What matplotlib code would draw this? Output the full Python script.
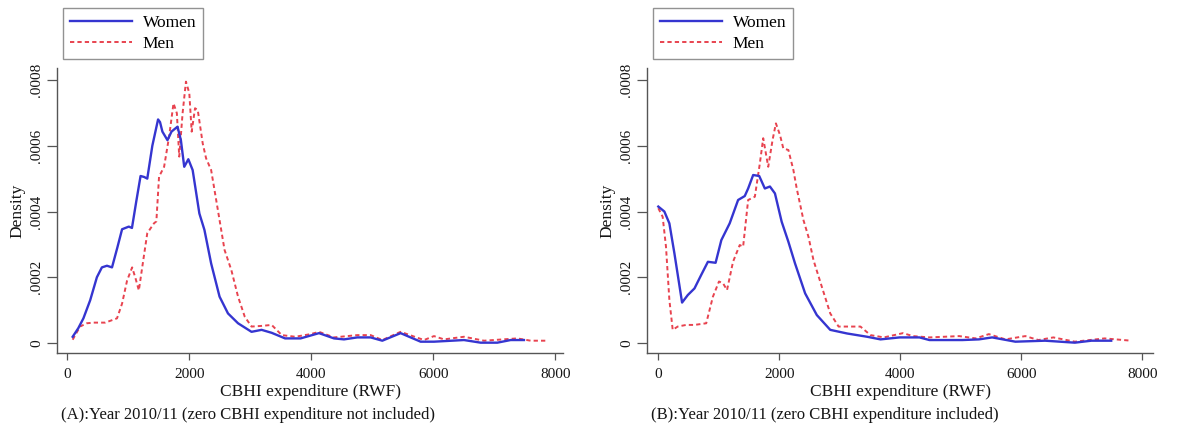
import matplotlib
matplotlib.use("Agg")
import matplotlib.pyplot as plt
from matplotlib.ticker import FixedLocator

# ---------------- data ----------------
# Panel A: zero CBHI expenditure not included
a_women_x = [88, 180, 264, 375, 485, 567, 650, 733, 820, 898, 1008, 1060, 1130, 1201, 1260, 1311, 1394,
             1488, 1520, 1559, 1642, 1708, 1807, 1862, 1917, 1984, 2055, 2110, 2165, 2248, 2358, 2496,
             2634, 2799, 3020, 3185, 3350, 3570, 3825, 4126, 4372, 4536, 4754, 4973, 5164, 5464, 5792,
             6011, 6503, 6776, 7049, 7268, 7486]
a_women_y = [0.000019, 0.000045, 0.000075, 0.00013, 0.0002, 0.00023, 0.000235, 0.00023, 0.00029, 0.000346,
             0.000354, 0.00035, 0.00043, 0.000508, 0.000505, 0.0005, 0.0006,
             0.00068, 0.000672, 0.000643, 0.000617, 0.000643, 0.000658, 0.000617, 0.000536, 0.000559,
             0.000526, 0.00046, 0.000394, 0.000344, 0.000242, 0.000141,
             0.00009, 0.00006, 0.000034, 0.00004, 0.000031, 0.000014, 0.000014, 0.00003, 0.000014,
             0.000011, 0.000017, 0.000017, 0.000007, 0.00003, 0.000004,
             0.000004, 0.000009, 0.000001, 0.000001, 0.000009, 0.000009]
a_men_x = [88, 209, 320, 430, 623, 815, 898, 980, 1063, 1118, 1173, 1228, 1311, 1421, 1460, 1504, 1587,
           1669, 1741, 1796, 1835, 1890, 1945, 2000, 2039, 2094, 2138, 2220, 2275, 2358, 2468, 2578,
           2689, 2799, 2909, 3020, 3185, 3350, 3516, 3736, 3989, 4126, 4372, 4754, 4973, 5164, 5464,
           5847, 6011, 6175, 6503, 6831, 7377, 7596, 7869]
a_men_y = [0.00001, 0.00005, 0.00006, 0.000062, 0.000062, 0.000075, 0.00012, 0.00019, 0.00023, 0.000197,
           0.00016, 0.00023, 0.000334, 0.000364, 0.00037, 0.000506, 0.000536,
           0.000628, 0.000729, 0.000699, 0.000567, 0.000699, 0.000795, 0.00076, 0.000643, 0.000714,
           0.000709, 0.000607, 0.000562, 0.000526, 0.000405, 0.000283,
           0.000222, 0.000141, 0.00008, 0.00005, 0.000052, 0.000055, 0.000024, 0.000019, 0.000027,
           0.000034, 0.000017, 0.000024, 0.000024, 0.000009, 0.000034,
           0.000009, 0.000021, 0.000011, 0.000019, 0.000007, 0.000014, 0.000007, 0.000007]

# Panel B: zero CBHI expenditure included
b_women_x = [0, 100, 183, 266, 393, 488, 598, 709, 820, 947, 1042, 1180, 1319, 1429, 1485, 1568, 1668,
             1761, 1845, 1928, 2039, 2150, 2260, 2427, 2620, 2842, 3119, 3451, 3673, 3989, 4317, 4481,
             5027, 5300, 5519, 5902, 6393, 6885, 7158, 7486]
b_women_y = [0.000415, 0.0004, 0.000364, 0.000273, 0.000123, 0.000146, 0.000166, 0.000207, 0.000247,
             0.000244, 0.000313, 0.000364, 0.000435, 0.000447, 0.00047, 0.000511, 0.000508,
             0.00047, 0.000476, 0.000455, 0.000369, 0.000308, 0.000242, 0.000151, 0.000085, 0.00004,
             0.000029, 0.000019, 0.000011, 0.000017, 0.000017, 0.000009,
             0.000009, 0.000011, 0.000017, 0.000004, 0.000007, 0.000001, 0.000007, 0.000007]
b_men_x = [0, 72, 127, 183, 238, 321, 460, 598, 792, 903, 1003, 1069, 1136, 1235, 1346, 1402, 1485,
           1596, 1679, 1734, 1817, 1889, 1944, 2011, 2066, 2150, 2233, 2288, 2399, 2482, 2565, 2703,
           2842, 2980, 3174, 3341, 3507, 3728, 4044, 4208, 4481, 4973, 5246, 5464, 5738, 6066, 6284,
           6530, 6885, 7377, 7814]
b_men_y = [0.00041, 0.000384, 0.000293, 0.000131, 0.00004, 0.00005, 0.000055, 0.000055, 0.00006,
           0.000141, 0.000187, 0.000182, 0.000161, 0.000247, 0.000298, 0.000293, 0.000435,
           0.000445, 0.000547, 0.000623, 0.000536, 0.000618, 0.000668, 0.000633, 0.000592, 0.000587,
           0.000526, 0.00047, 0.000374, 0.000323, 0.000252, 0.000171,
           0.00009, 0.00005, 0.00005, 0.00005, 0.000024, 0.000017, 0.00003, 0.000021, 0.000017,
           0.000021, 0.000014, 0.000027, 0.000011, 0.000021, 0.000009,
           0.000017, 0.000004, 0.000014, 0.000007]

x_ticks = [0, 2000, 4000, 6000, 8000]
y_ticks = [0, 0.0002, 0.0004, 0.0006, 0.0008]
y_tick_labels = ["0", ".0002", ".0004", ".0006", ".0008"]
series_labels = ["Women", "Men"]
x_label = "CBHI expenditure (RWF)"
y_label = "Density"
captions = ["(A):Year 2010/11 (zero CBHI expenditure not included)",
            "(B):Year 2010/11 (zero CBHI expenditure included)"]

# ---------------- styling ----------------
plt.rcParams["font.family"] = ["Liberation Serif", "DejaVu Serif"]
W, H = 1179, 430
fig = plt.figure(figsize=(W / 100, H / 100), dpi=100)
fig.patch.set_facecolor("white")

women_color = "#3535d0"
men_color = "#e8434f"
spine_color = "#555555"
text_color = "#151515"

panels = [
    dict(left=57, right=563, x0=67.3, px_per_k=61.0, data=(a_women_x, a_women_y, a_men_x, a_men_y),
         legend=(63, 8), caption=captions[0]),
    dict(left=647, right=1153, x0=658.3, px_per_k=60.5, data=(b_women_x, b_women_y, b_men_x, b_men_y),
         legend=(653, 8), caption=captions[1]),
]

top_px, bottom_px = 68, 353
y0_px, y8_px = 343, 80
per_unit = (y0_px - y8_px) / 0.0008

for p in panels:
    ax = fig.add_axes([p["left"] / W, 1 - bottom_px / H, (p["right"] - p["left"]) / W,
                       (bottom_px - top_px) / H])
    wx, wy, mx, my = p["data"]
    ax.plot(mx, my, color=men_color, lw=1.4, ls=(0, (2.2, 1.6)), label=series_labels[1], zorder=2)
    ax.plot(wx, wy, color=women_color, lw=1.7, label=series_labels[0], zorder=3)

    xl = (p["left"] - p["x0"]) / p["px_per_k"] * 1000
    xr = (p["right"] - p["x0"]) / p["px_per_k"] * 1000
    ax.set_xlim(xl, xr)
    yb = -(bottom_px - y0_px) / per_unit
    yt = (y0_px - top_px) / per_unit
    ax.set_ylim(yb, yt)

    for s in ["top", "right"]:
        ax.spines[s].set_visible(False)
    for s in ["left", "bottom"]:
        ax.spines[s].set_color(spine_color)
        ax.spines[s].set_linewidth(1.0)

    ax.xaxis.set_major_locator(FixedLocator(x_ticks))
    ax.yaxis.set_major_locator(FixedLocator(y_ticks))
    ax.set_yticklabels(y_tick_labels, rotation=90, va="center")
    ax.tick_params(axis="x", length=5, width=0.9, color=spine_color, labelsize=11, pad=6,
                   labelcolor=text_color)
    ax.tick_params(axis="y", length=7, width=0.9, color=spine_color, labelsize=11, pad=3,
                   labelcolor=text_color)
    ax.set_xlabel(x_label, fontsize=12.5, labelpad=2, color=text_color)
    ax.set_ylabel(y_label, fontsize=12.5, labelpad=3, color=text_color)

    # legend box in the top-left of each panel
    h, l = ax.get_legend_handles_labels()
    order = [1, 0]
    leg = ax.legend([h[i] for i in order], [l[i] for i in order],
                    loc="upper left", bbox_to_anchor=(p["legend"][0] / W, 1 - p["legend"][1] / H),
                    bbox_transform=fig.transFigure, fontsize=12.5, frameon=True, fancybox=False,
                    handlelength=3.6, handletextpad=0.6, labelspacing=0.3, borderpad=0.4,
                    borderaxespad=0)
    leg.get_frame().set_edgecolor("#777777")
    leg.get_frame().set_linewidth(1.0)

    fig.text((p["left"] + 4) / W, 1 - 415 / H, p["caption"], fontsize=12, ha="left", va="center",
             color=text_color)

fig.savefig("out.png", dpi=100, facecolor="white")
